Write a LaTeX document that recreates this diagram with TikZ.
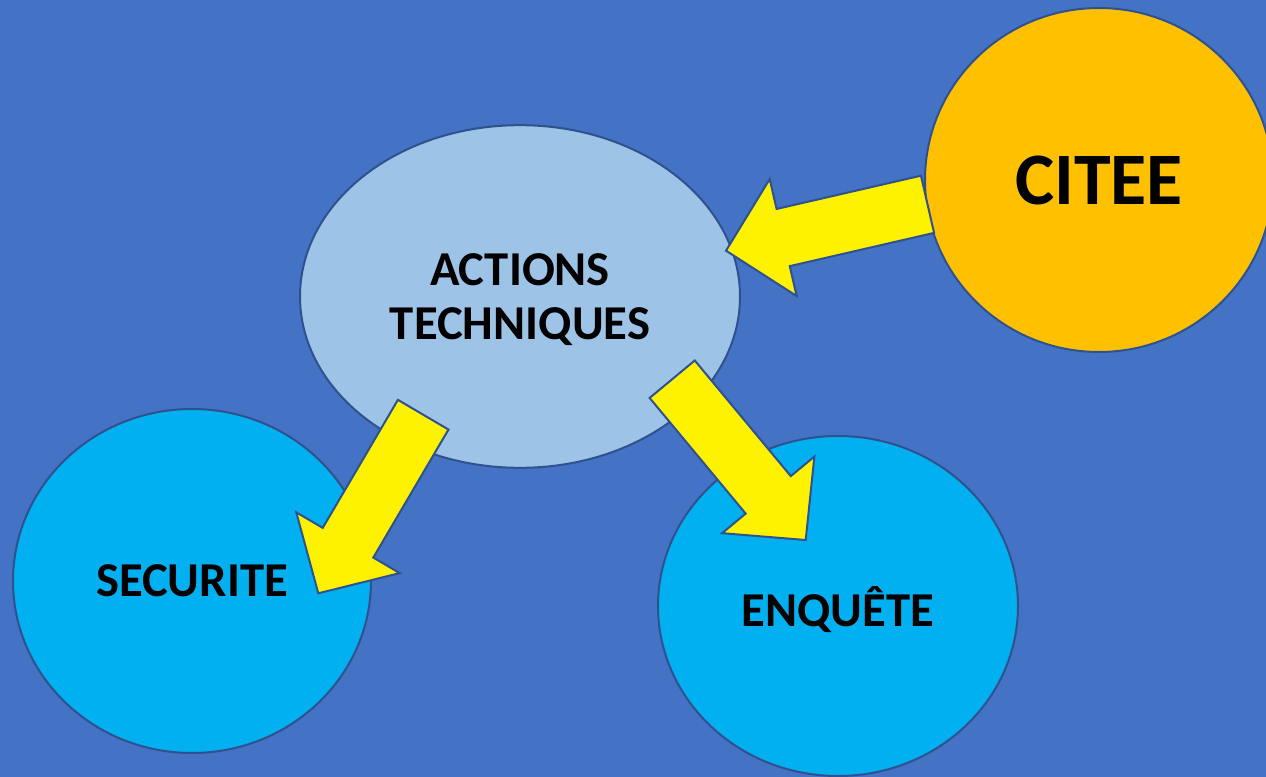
\documentclass[tikz,border=0pt]{standalone}
\usepackage{fontspec}
\setmainfont{Carlito}
\usetikzlibrary{shapes.geometric,calc}

\definecolor{bgblue}{HTML}{4472C4}
\definecolor{lightblue}{HTML}{9DC3E6}
\definecolor{citeeorange}{HTML}{FFC000}
\definecolor{cyanblue}{HTML}{00B0F0}
\definecolor{edgeblue}{HTML}{2F528F}

\tikzset{
  bubble/.style={ellipse,draw=edgeblue,line width=1.5pt,inner sep=0pt,align=center,text depth=0pt,
    font=\bfseries\fontsize{36.5}{41}\selectfont},
  fatarrow/.style={fill=yellow,draw=edgeblue,line width=1.5pt,line join=miter}
}

% yellow block arrow, tail #1, tip #2
\newcommand{\blockarrow}[2]{%
  \path ($(#2)!44pt!(#1)$) coordinate (hb);
  \draw[fatarrow] ($(#1)!22pt!90:(#2)$) -- ($(hb)!22pt!90:(#2)$) -- ($(hb)!45pt!90:(#2)$)
    -- (#2) -- ($(hb)!45pt!-90:(#2)$) -- ($(hb)!22pt!-90:(#2)$) -- ($(#1)!22pt!-90:(#2)$) -- cycle;
}

\begin{document}
\begin{tikzpicture}[x=0.75pt,y=-0.75pt]
  % Background
  \fill[bgblue] (0,0) rectangle (1266,777);
  \useasboundingbox (0,0) rectangle (1266,777);
  \clip (0,0) rectangle (1266,777);

  % Bubbles
  \node[bubble,fill=lightblue,minimum width=330pt,minimum height=257pt] (actions) at (520,296.5) {ACTIONS\\TECHNIQUES};
  \node[bubble,fill=citeeorange,minimum width=261pt,minimum height=258pt,
    font=\bfseries\fontsize{55.5}{60}\selectfont] (citee) at (1099,180) {CITEE};
  \node[bubble,fill=cyanblue,minimum width=268.5pt,minimum height=258pt] (securite) at (192,581) {SECURITE};
  \node[bubble,fill=cyanblue,minimum width=270pt,minimum height=255pt] (enquete) at (838,606) {ENQUÊTE};

  % Arrow ends
  \coordinate (citee-out) at ($(citee.center)+(-171.5,24.3)$);
  \coordinate (actions-in) at ($(actions.center)+(206,-45.8)$);
  \coordinate (actions-sw) at ($(actions.center)+(-96.8,118.2)$);
  \coordinate (actions-se) at ($(actions.center)+(152.2,82.7)$);
  \coordinate (securite-in) at ($(securite.center)+(126.3,12.3)$);
  \coordinate (enquete-in) at ($(enquete.center)+(-32.3,-66)$);

  % Arrows
  \foreach \s/\t in {citee-out/actions-in,actions-sw/securite-in,actions-se/enquete-in}
    {\blockarrow{\s}{\t}}
\end{tikzpicture}
\end{document}
